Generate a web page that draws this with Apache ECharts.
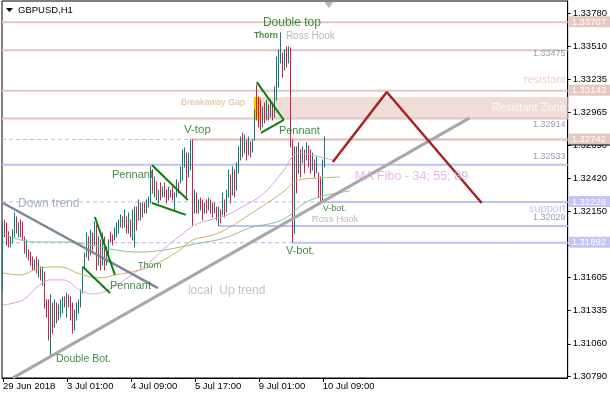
<!DOCTYPE html>
<html><head><meta charset="utf-8">
<script src="https://cdn.jsdelivr.net/npm/echarts@6/dist/echarts.min.js"></script>
<style>html,body{margin:0;padding:0;background:#fff}#c{width:610px;height:400px}</style>
</head><body><div id="c"></div>
<script>
// ---------- DATA ----------
const SLOTS = 283; // bar slots across the plot (2 px each)
const xTickIdx = [0, 32, 64, 96, 128, 160];
const xTickLabels = ["29 Jun 2018", "3 Jul 01:00", "4 Jul 09:00", "5 Jul 17:00", "9 Jul 01:00", "10 Jul 09:00"];
const yTicks = [1.30790, 1.31060, 1.31335, 1.31605, 1.31875, 1.32150, 1.32420, 1.32690, 1.32965, 1.33235, 1.33510, 1.33780];

// H1 bars: [open, close, low, high]
const bars = [
[1.31544,1.32038,1.31503,1.32063],[1.32038,1.31956,1.31940,1.32079],[1.31956,1.31915,1.31874,1.32055],
[1.31915,1.31882,1.31857,1.31981],[1.31882,1.31915,1.31857,1.31940],[1.31915,1.31981,1.31890,1.31997],
[1.31981,1.32104,1.31940,1.32137],[1.32096,1.32014,1.31972,1.32104],[1.32014,1.32038,1.31940,1.32055],
[1.32038,1.31981,1.31940,1.32079],[1.31981,1.31940,1.31915,1.32063],[1.31940,1.31833,1.31808,1.31940],
[1.31833,1.31874,1.31775,1.31915],[1.31833,1.31767,1.31750,1.31833],[1.31767,1.31734,1.31709,1.31815],
[1.31734,1.31693,1.31668,1.31775],[1.31693,1.31726,1.31668,1.31750],[1.31726,1.31668,1.31643,1.31775],
[1.31668,1.31709,1.31610,1.31750],[1.31693,1.31610,1.31586,1.31693],[1.31610,1.31668,1.31544,1.31693],
[1.31651,1.31380,1.31355,1.31651],[1.31380,1.31314,1.31281,1.31421],[1.31314,1.31174,1.31092,1.31421],
[1.31174,1.31380,1.30952,1.31462],[1.31380,1.31215,1.31149,1.31396],[1.31215,1.31380,1.31199,1.31421],
[1.31380,1.31273,1.31232,1.31396],[1.31273,1.31339,1.31256,1.31380],[1.31339,1.31396,1.31281,1.31421],
[1.31396,1.31421,1.31314,1.31446],[1.31421,1.31396,1.31363,1.31446],[1.31396,1.31446,1.31281,1.31479],
[1.31446,1.31396,1.31363,1.31462],[1.31396,1.31298,1.31256,1.31446],[1.31298,1.31191,1.31149,1.31396],
[1.31191,1.31298,1.31174,1.31339],[1.31298,1.31363,1.31256,1.31396],[1.31363,1.31405,1.31314,1.31421],
[1.31405,1.31487,1.31363,1.31503],[1.31487,1.31684,1.31479,1.31693],[1.31684,1.31791,1.31684,1.31808],
[1.31791,1.31931,1.31775,1.31972],[1.31931,1.31791,1.31750,1.31940],[1.31791,1.31972,1.31791,1.31997],
[1.31972,1.31874,1.31833,1.31972],[1.31874,1.32038,1.31874,1.32063],[1.32038,1.31709,1.31668,1.32038],
[1.31709,1.31915,1.31709,1.31940],[1.31915,1.31709,1.31668,1.31915],[1.31709,1.31940,1.31709,1.31972],
[1.31940,1.31709,1.31668,1.31940],[1.31709,1.31833,1.31709,1.31857],[1.31833,1.31890,1.31775,1.31915],
[1.31948,1.31915,1.31898,1.31981],[1.31915,1.31890,1.31874,1.31956],[1.31915,1.31997,1.31915,1.32014],
[1.31997,1.32038,1.31940,1.32055],[1.32038,1.32063,1.31972,1.32079],[1.32063,1.32104,1.32022,1.32121],
[1.32104,1.32038,1.32014,1.32104],[1.32038,1.32145,1.32022,1.32162],[1.32096,1.31997,1.31972,1.32104],
[1.31997,1.32121,1.31972,1.32137],[1.32079,1.31956,1.31940,1.32079],[1.31956,1.32145,1.31915,1.32162],
[1.31915,1.32162,1.31857,1.32186],[1.32162,1.32038,1.31997,1.32186],[1.32079,1.32219,1.32079,1.32244],
[1.32219,1.32121,1.32079,1.32219],[1.32121,1.32203,1.32104,1.32219],[1.32203,1.32162,1.32137,1.32219],
[1.32162,1.32228,1.32137,1.32244],[1.32228,1.32244,1.32186,1.32269],[1.32244,1.32491,1.32219,1.32516],
[1.32491,1.32367,1.32301,1.32491],[1.32367,1.32409,1.32269,1.32433],[1.32392,1.32269,1.32244,1.32392],
[1.32269,1.32309,1.32219,1.32325],[1.32309,1.32285,1.32244,1.32384],[1.32285,1.32325,1.32269,1.32350],
[1.32325,1.32293,1.32269,1.32384],[1.32293,1.32244,1.32219,1.32325],[1.32244,1.32325,1.32244,1.32350],
[1.32325,1.32285,1.32269,1.32325],[1.32285,1.32260,1.32244,1.32350],[1.32260,1.32285,1.32162,1.32301],
[1.32285,1.32384,1.32269,1.32409],[1.32384,1.32325,1.32301,1.32384],[1.32384,1.32474,1.32384,1.32516],
[1.32474,1.32614,1.32409,1.32655],[1.32614,1.32638,1.32516,1.32672],[1.32614,1.32450,1.32269,1.32630],
[1.32450,1.32573,1.32433,1.32630],[1.32573,1.32713,1.32491,1.32738],[1.32713,1.32162,1.32038,1.32738],
[1.32162,1.32285,1.32137,1.32325],[1.32285,1.32203,1.32137,1.32301],[1.32203,1.32219,1.32137,1.32244],
[1.32219,1.32195,1.32162,1.32260],[1.32195,1.32145,1.32079,1.32244],[1.32145,1.32203,1.32137,1.32219],
[1.32203,1.32162,1.32137,1.32244],[1.32162,1.32228,1.32162,1.32260],[1.32228,1.32178,1.32137,1.32244],
[1.32178,1.32145,1.32104,1.32219],[1.32145,1.32195,1.32137,1.32219],[1.32178,1.32121,1.32079,1.32186],
[1.32121,1.32162,1.32038,1.32186],[1.32162,1.32096,1.32055,1.32162],[1.32121,1.32244,1.32121,1.32301],
[1.32244,1.32145,1.32104,1.32244],[1.32145,1.32301,1.32145,1.32325],[1.32301,1.32450,1.32269,1.32491],
[1.32450,1.32285,1.32219,1.32450],[1.32285,1.32474,1.32285,1.32516],[1.32474,1.32325,1.32269,1.32491],
[1.32325,1.32516,1.32325,1.32549],[1.32516,1.32655,1.32466,1.32680],[1.32655,1.32738,1.32573,1.32762],
[1.32738,1.32655,1.32598,1.32795],[1.32655,1.32738,1.32630,1.32779],[1.32738,1.32614,1.32573,1.32738],
[1.32614,1.32721,1.32614,1.32762],[1.32721,1.32638,1.32598,1.32721],[1.32638,1.32696,1.32638,1.32738],
[1.32738,1.32968,1.32738,1.32984],[1.32968,1.32943,1.32902,1.33190],[1.32943,1.32886,1.32845,1.33091],
[1.32886,1.32861,1.32820,1.33066],[1.32861,1.32984,1.32845,1.33009],[1.32984,1.32919,1.32878,1.33042],
[1.32919,1.33025,1.32902,1.33066],[1.33025,1.32943,1.32902,1.33025],[1.32943,1.33042,1.32927,1.33066],
[1.33042,1.32943,1.32902,1.33042],[1.32943,1.33149,1.32927,1.33173],[1.33149,1.33396,1.33066,1.33420],
[1.33231,1.33437,1.33173,1.33478],[1.33437,1.33560,1.33371,1.33618],[1.33437,1.33313,1.33256,1.33453],
[1.33313,1.33437,1.33313,1.33478],[1.33437,1.33379,1.33338,1.33503],[1.33379,1.33478,1.33371,1.33503],
[1.33478,1.32738,1.32680,1.33494],[1.32738,1.32121,1.31898,1.32738],[1.32121,1.32573,1.31972,1.32680],
[1.32573,1.32367,1.32301,1.32680],[1.32491,1.32655,1.32466,1.32713],[1.32655,1.32474,1.32433,1.32655],
[1.32573,1.32655,1.32549,1.32680],[1.32655,1.32507,1.32466,1.32655],[1.32590,1.32688,1.32573,1.32713],
[1.32688,1.32557,1.32516,1.32688],[1.32557,1.32491,1.32466,1.32655],[1.32491,1.32590,1.32491,1.32630],
[1.32573,1.32474,1.32433,1.32573],[1.32474,1.32573,1.32466,1.32598],[1.32466,1.32309,1.32269,1.32466],
[1.32309,1.32260,1.32228,1.32433],[1.32260,1.32532,1.32244,1.32573],[1.32532,1.32696,1.32516,1.32762]
];

// Moving averages: [bar index, price]
const ma34 = [[0,1.31380],[10,1.31421],[17,1.31527],[23.5,1.31586],[30,1.31586],[38.5,1.31503],[45,1.31470],
 [53.5,1.31511],[63.5,1.31618],[73.5,1.31734],[81,1.31848],[88.5,1.31948],[96,1.32038],[103.5,1.32079],
 [111,1.32112],[119.5,1.32186],[129.5,1.32285],[139.5,1.32466],[148,1.32630],[154.5,1.32614],[165,1.32573]];
const ma55 = [[0,1.31643],[8.5,1.31627],[18.5,1.31684],[28.5,1.31693],[38.5,1.31635],[48.5,1.31602],[56,1.31627],
 [68.5,1.31668],[78.5,1.31734],[88.5,1.31833],[95,1.31915],[103.5,1.31948],[111,1.31997],[124.5,1.32137],
 [139.5,1.32301],[148,1.32409],[158.5,1.32425],[168.5,1.32433]];
const ma89 = [[0,1.31972],[8.5,1.31915],[18.5,1.31898],[32,1.31898],[43.5,1.31874],[56,1.31833],[68.5,1.31815],
 [81,1.31833],[91,1.31865],[98.5,1.31890],[111,1.31931],[123.5,1.32014],[139.5,1.32079],[151,1.32219],
 [158.5,1.32269],[167,1.32301],[173.5,1.32317]];

// Horizontal levels
const pinkLevels = [1.33707, 1.33475, 1.33143, 1.32914];
const pinkFrom = [[1.32742, 94.5]];
const lavLevels = [1.32533];
const lavFrom = [[1.32228, 160], [1.32029, 107.5], [1.31892, 144.5]];
const dashPink = [1.32742];
const dashLav = [1.32228, 1.31892];
const pinkBoxes = [1.33707, 1.33143, 1.32742];
const lavBoxes = [1.32228, 1.31892];
const bidPrice = 1.32701;

// Zones
const resistZone = [125.5, 1.33091, SLOTS - 0.5, 1.32914];
const gapBox = [125.5, 1.33091, 129, 1.32902];

// Drawn lines
const downTrend = [[0, 1.32219], [77.5, 1.31519]];
const upTrend = [[5, 1.30780], [233.5, 1.32919]];
const pennants = [
 [[46, 1.32104], [56, 1.31627]], [[40, 1.31693], [53.5, 1.31479]],
 [[74.5, 1.32532], [92.5, 1.32244]], [[74.5, 1.32219], [91.5, 1.32121]],
 [[127, 1.33214], [140.5, 1.32902]], [[129, 1.32795], [140.5, 1.32902]]
];
const zigzag = [[165, 1.32557], [192, 1.33132], [239.5, 1.32219]];
const shiftMark = [163, 1.33848];

// Text notes (anchor in data coords)
const notes = [
 ['Double top', 130, 1.33700, 'g12'], ['Thorn', 125.5, 1.33593, 'thorn'], ['Ross Hook', 141.5, 1.33593, 'ross10'],
 ['Breakaway Gap', 89, 1.33042, 'gap'], ['V-top', 90.5, 1.32820, 'g115'], ['Pennant', 138, 1.32812, 'g11'],
 ['Pennant', 54.5, 1.32450, 'g11'], ['Pennant', 53.5, 1.31536, 'g11'], ['Thorn', 67.5, 1.31701, 'g9'],
 ['Double Bot.', 26.5, 1.30936, 'g105'], ['Down trend', 7.5, 1.32211, 'down'], ['local  Up trend', 92.5, 1.31495, 'up'],
 ['V-bot.', 141.5, 1.31824, 'g11'], ['V-bot.', 160, 1.32170, 'g9'], ['Ross Hook', 154.5, 1.32088, 'ross95'],
 ['MA Fibo - 34; 55; 89', 176, 1.32433, 'ma']
];
const rightNotes = [
 ['1.33475', 1.33445, 'val'], ['resistant', 1.33231, 'res'], ['Resistant Zone', 1.33001, 'zone'],
 ['1.32914', 1.32861, 'val'], ['1.32533', 1.32598, 'val'], ['support', 1.32170, 'sup'], ['1.32029', 1.32096, 'val']
];

// ---------- STYLES ----------
const FONT = 'Liberation Sans, Arial, sans-serif';
const UP = '#0b7d7d', DOWN = '#d41c44';
const PINK = '#e2c7c0', LAV = '#c0c0f2';
const GREEN = '#137013';
const noteStyle = {
 g12: {fontSize: 12, color: GREEN}, g115: {fontSize: 11.5, color: GREEN}, g11: {fontSize: 11, color: GREEN},
 g105: {fontSize: 10.5, color: GREEN}, g9: {fontSize: 9, color: GREEN},
 thorn: {fontSize: 8.5, color: GREEN, fontWeight: 'bold'},
 ross10: {fontSize: 10, color: '#a8a8a8'}, ross95: {fontSize: 9.5, color: '#a8a8a8'},
 gap: {fontSize: 9, color: '#d8a878'}, down: {fontSize: 12, color: '#8e9cb0'}, up: {fontSize: 12, color: '#b3b3b3'},
 ma: {fontSize: 12.5, color: '#e2a2e2'},
 val: {fontSize: 9, color: '#7a889c'}, res: {fontSize: 11, color: '#e8c6ba'}, zone: {fontSize: 11, color: '#ffffff'},
 sup: {fontSize: 11, color: '#b2b2f0'}
};

const XMIN = -0.5, XMAX = SLOTS - 0.5;
const series = [];

function rectSeries(box, color, z) {
 return {type: 'custom', silent: true, clip: true, data: [box], z: z,
  encode: {x: [0, 2], y: [1, 3]},
  renderItem: (p, api) => {
   const a = api.coord([api.value(0), api.value(1)]), b = api.coord([api.value(2), api.value(3)]);
   return {type: 'rect', shape: {x: Math.min(a[0], b[0]), y: Math.min(a[1], b[1]), width: Math.abs(b[0] - a[0]), height: Math.abs(b[1] - a[1])}, style: {fill: color}};
  }};
}
function lineSeries(points, color, width, type, z) {
 return {type: 'line', data: points, symbol: 'none', silent: true, clip: true, z: z || 2,
  lineStyle: {color: color, width: width, type: type || 'solid'}};
}

series.push(rectSeries(resistZone, '#f0ddd8', 1));
pinkLevels.forEach(p => series.push(lineSeries([[XMIN, p], [XMAX, p]], PINK, 2)));
dashPink.forEach(p => series.push(lineSeries([[XMIN, p], [XMAX, p]], '#d9bdb6', 1, [4, 3])));
pinkFrom.forEach(([p, f]) => series.push(lineSeries([[f, p], [XMAX, p]], PINK, 2.5)));
lavLevels.forEach(p => series.push(lineSeries([[XMIN, p], [XMAX, p]], LAV, 2)));
dashLav.forEach(p => series.push(lineSeries([[XMIN, p], [XMAX, p]], '#b8b8f0', 1, [4, 3])));
lavFrom.forEach(([p, f]) => series.push(lineSeries([[f, p], [XMAX, p]], LAV, 2)));
series.push(rectSeries(gapBox, '#ffc400', 2.5));

// bars
series.push({type: 'custom', silent: true, clip: true, z: 3,
 data: bars.map((b, i) => [i, b[0], b[1], b[2], b[3]]),
 encode: {x: 0, y: [1, 2, 3, 4]},
 renderItem: (p, api) => {
  const i = api.value(0), o = api.value(1), c = api.value(2), lo = api.value(3), hi = api.value(4);
  const t = api.coord([i, hi]), b = api.coord([i, lo]);
  const x = Math.floor(t[0]) + 0.5;
  return {type: 'line', shape: {x1: x, y1: t[1] - 0.5, x2: x, y2: b[1] + 0.5}, style: {stroke: c >= o ? UP : DOWN, lineWidth: 1}};
 }});

series.push(Object.assign(lineSeries(ma89, '#8fc08f', 1, 'solid', 4), {smooth: 0.4}));
series.push(Object.assign(lineSeries(ma55, '#c4b460', 1, 'solid', 4), {smooth: 0.4}));
series.push(Object.assign(lineSeries(ma34, '#dda0dd', 1, 'solid', 4), {smooth: 0.4}));

series.push(lineSeries(downTrend, '#7a8899', 2.5, 'solid', 5));
series.push(lineSeries(upTrend, '#a8a8a8', 3, 'solid', 5));
pennants.forEach(pt => series.push(lineSeries(pt, '#0a800a', 2, 'solid', 5)));
series.push(lineSeries(zigzag, '#a52424', 2.5, 'solid', 5));

// texts
series.push({type: 'scatter', silent: true, clip: false, z: 6, symbolSize: 0.1, itemStyle: {color: 'transparent'},
 data: notes.map(n => ({value: [n[1], n[2]], label: Object.assign({show: true, position: 'right', distance: 0, formatter: n[0], fontFamily: FONT}, noteStyle[n[3]])}))
  .concat(rightNotes.map(n => ({value: [XMAX, n[1]], label: Object.assign({show: true, position: 'left', distance: 2, formatter: n[0], fontFamily: FONT}, noteStyle[n[2]])})))
});

// shift marker
series.push({type: 'scatter', silent: true, clip: false, z: 6, symbol: 'triangle', symbolRotate: 180, symbolSize: [9, 6],
 itemStyle: {color: '#a6a6a6'}, data: [shiftMark]});

// price boxes on right axis
series.push({type: 'custom', silent: true, clip: false, z: 8,
 data: [[XMAX, bidPrice]],
 renderItem: (p, api) => {
  const a = api.coord([api.value(0), api.value(1)]);
  return {type: 'rect', shape: {x: a[0] + 1, y: a[1] - 1, width: 42, height: 2}, style: {fill: '#000'}};
 }});
series.push({type: 'custom', silent: true, clip: false, z: 9,
 data: pinkBoxes.map(p => [XMAX, p, 0]).concat(lavBoxes.map(p => [XMAX, p, 1])),
 renderItem: (p, api) => {
  const a = api.coord([api.value(0), api.value(1)]);
  const v = api.value(1);
  return {type: 'group', children: [
   {type: 'rect', shape: {x: a[0] + 1, y: a[1] - 6, width: 42, height: 11}, style: {fill: api.value(2) ? '#c4c4f6' : '#e4c8c1'}},
   {type: 'text', style: {x: a[0] + 4, y: a[1], text: v.toFixed(5), fill: '#ffffff', font: '9.5px ' + FONT, verticalAlign: 'middle', align: 'left'}}
  ]};
 }});

const option = {
 animation: false,
 textStyle: {fontFamily: FONT},
 grid: {left: 2, right: 42, top: 1, bottom: 22, show: true, borderColor: '#000', borderWidth: 1, backgroundColor: 'transparent'},
 xAxis: {type: 'value', min: XMIN, max: XMAX, position: 'bottom',
  axisLine: {show: true, onZero: false, lineStyle: {color: '#000', width: 1}},
  axisTick: {show: true, customValues: xTickIdx, length: 4, lineStyle: {color: '#000'}},
  axisLabel: {customValues: xTickIdx, formatter: v => xTickLabels[xTickIdx.indexOf(Math.round(v))] || '', align: 'left', margin: 3, fontSize: 9.5, color: '#000', fontFamily: FONT},
  splitLine: {show: false}},
 yAxis: {type: 'value', min: 1.30779, max: 1.33881, position: 'right',
  axisLine: {show: true, onZero: false, lineStyle: {color: '#000', width: 1}},
  axisTick: {show: true, customValues: yTicks, length: 3, lineStyle: {color: '#000'}},
  axisLabel: {customValues: yTicks, formatter: v => v.toFixed(5), margin: 5, fontSize: 9.5, color: '#000', fontFamily: FONT},
  splitLine: {show: false}},
 graphic: [
  {type: 'polygon', shape: {points: [[6, 8], [13, 8], [9.5, 12]]}, style: {fill: '#000'}},
  {type: 'text', left: 18, top: 5, style: {text: 'GBPUSD,H1', fill: '#000', font: '9.5px ' + FONT}}
 ],
 series: series
};
const chart = echarts.init(document.getElementById('c'));
chart.setOption(option);
</script>
</body></html>
